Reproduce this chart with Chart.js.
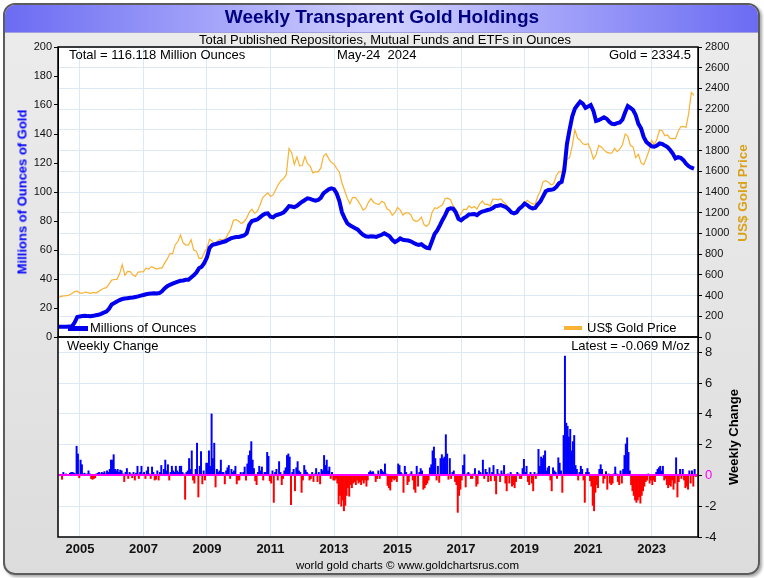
<!DOCTYPE html>
<html>
<head>
<meta charset="utf-8">
<script src="https://cdn.jsdelivr.net/npm/chart.js@4.4.1/dist/chart.umd.min.js"></script>
<style>
  body { margin: 0; width: 764px; height: 578px; background: #fff; overflow: hidden;
         font-family: "Liberation Sans", Arial, sans-serif; }
  #frame { position: absolute; left: 3px; top: 3px; width: 753px; height: 568px;
           border: 2px solid #5c5c5c; border-radius: 12px; overflow: hidden;
           background: linear-gradient(#ececec, #e4e4e4 60%, #dcdcdc);
           box-shadow: 2px 2px 3px rgba(0,0,0,0.35); }
  #titlebar { position: absolute; left: 0; top: 0; width: 100%; height: 27px;
              background: linear-gradient(to right, #6b6bf3, #d2d2ff 50%, #6b6bf3);
              border-bottom: 1px solid #a0a0e0; }
  .plot { position: absolute; left: 58px; width: 640px; background: #fff; }
  .lbl { position: absolute; white-space: pre; line-height: 1; font-size: 13px; color: #000; }
  .vt { position: absolute; white-space: pre; line-height: 1; font-weight: bold; font-size: 13px;
        transform: translate(-50%, -50%) rotate(-90deg); }
  canvas { position: absolute; left: 0; }
</style>
</head>
<body>
<div id="frame"><div id="titlebar"></div></div>
<div class="plot" style="top:47px;height:290px"></div>
<div class="plot" style="top:337px;height:200px"></div>

<canvas id="top" width="764" height="351" style="top:0"></canvas>
<canvas id="bottom" width="764" height="253" style="top:325px"></canvas>

<div class="lbl" style="left:0;width:764px;text-align:center;top:7px;font-size:19px;font-weight:bold;color:#000080">Weekly Transparent Gold Holdings</div>
<div class="lbl" style="left:0;width:770px;text-align:center;top:33px">Total Published Repositories, Mutual Funds and ETFs in Ounces</div>
<div class="lbl" style="left:69px;top:48px">Total = 116.118 Million Ounces</div>
<div class="lbl" style="left:337px;top:48px">May-24  2024</div>
<div class="lbl" style="right:73px;top:48px">Gold = 2334.5</div>
<div style="position:absolute;left:68px;top:326px;width:20px;height:5px;background:#0000ee"></div>
<div class="lbl" style="left:90px;top:321px">Millions of Ounces</div>
<div style="position:absolute;left:564px;top:326px;width:18px;height:4px;background:#f9b233"></div>
<div class="lbl" style="left:587px;top:321px">US$ Gold Price</div>
<div class="lbl" style="left:67px;top:339px">Weekly Change</div>
<div class="lbl" style="right:74px;top:339px">Latest = -0.069 M/oz</div>
<div class="lbl" style="left:0;width:815px;text-align:center;top:560px;font-size:11.5px">world gold charts © www.goldchartsrus.com</div>
<div class="vt" style="left:22px;top:192px;color:#0000ff">Millions of Ounces of Gold</div>
<div class="vt" style="left:743px;top:193px;color:#d9a21b;font-size:13.5px">US$ Gold Price</div>
<div class="vt" style="left:733px;top:437px;color:#000">Weekly Change</div>

<script>
// monthly, May 2004 .. May 2024
const holdings = [
  7.0, 7.0, 7.1, 7.1, 7.2, 7.3, 10.0, 13.8,
  14.2, 14.5, 14.6, 14.4, 14.3, 14.6, 15.0, 15.3, 16.0, 16.8, 17.5, 19.5,
  22.5, 23.5, 24.5, 25.5, 26.2, 26.5, 26.8, 27.0, 27.2, 27.6, 28.0, 28.5,
  29.0, 29.5, 29.8, 30.0, 30.2, 30.0, 30.3, 31.5, 33.5, 35.0, 36.0, 36.8,
  37.5, 38.2, 38.8, 39.0, 39.5, 39.5, 41.0, 42.5, 44.5, 47.5, 48.5, 51.0,
  55.0, 61.5, 63.5, 64.0, 64.5, 65.0, 65.5, 66.0, 67.0, 68.0, 68.5, 69.0,
  69.0, 69.5, 70.0, 71.5, 77.5, 80.0, 80.5, 81.0, 82.5, 84.0, 85.0, 85.3,
  83.0, 82.5, 84.0, 84.5, 85.0, 86.0, 88.0, 90.3, 90.0, 89.5, 90.5, 92.0,
  93.3, 94.5, 95.6, 95.3, 94.5, 94.0, 94.5, 96.0, 99.0, 100.5, 101.8, 102.5,
  102.0, 99.0, 94.0, 86.0, 82.0, 78.5, 77.0, 76.0, 75.0, 74.0, 72.0, 70.5,
  69.5, 69.2, 69.5, 69.3, 69.0, 69.8, 70.5, 71.5, 70.5, 69.5, 67.0, 65.5,
  66.5, 68.0, 67.0, 66.8, 66.5, 66.0, 65.0, 64.0, 63.5, 64.0, 62.5, 61.5,
  61.2, 66.0, 71.0, 73.5, 77.0, 80.7, 84.0, 88.0, 88.7, 88.5, 86.0, 81.5,
  80.5, 82.0, 83.0, 84.5, 84.6, 84.8, 84.0, 85.5, 86.5, 87.0, 87.6, 88.0,
  89.0, 90.3, 90.5, 91.0, 90.3, 89.5, 88.0, 86.0, 85.3, 86.0, 88.5, 90.0,
  92.0, 91.0, 89.5, 88.7, 89.0, 91.5, 93.5, 97.0, 100.5, 101.4, 101.5, 102.0,
  103.5, 106.0, 107.0, 115.0, 133.0, 143.0, 152.0, 157.5, 160.0, 162.3, 161.0, 158.0,
  159.0, 160.0, 156.0, 149.0, 149.5, 150.5, 151.5, 150.5, 148.5, 147.0, 146.8, 147.5,
  148.0, 150.0, 155.0, 159.3, 158.0, 156.5, 153.0, 147.0, 143.9, 138.0, 134.5, 133.0,
  131.5, 131.2, 132.0, 133.5, 133.1, 132.0, 131.0, 129.0, 126.5, 123.2, 124.0, 123.5,
  122.0, 119.5, 117.8, 116.8, 116.1
];

const goldPrice = [
  384, 392, 398, 400, 405, 420, 439, 442,
  424, 423, 434, 429, 422, 430, 424, 438, 456, 470, 476, 510,
  549, 555, 557, 610, 700, 596, 633, 632, 598, 585, 627, 629,
  631, 665, 655, 679, 667, 655, 665, 665, 713, 754, 806, 803,
  889, 922, 985, 909, 888, 889, 939, 839, 829, 760, 760, 816,
  858, 943, 924, 890, 928, 945, 934, 949, 996, 1043, 1127, 1134,
  1118, 1095, 1113, 1148, 1205, 1233, 1193, 1215, 1270, 1342, 1370, 1391,
  1356, 1372, 1424, 1474, 1512, 1529, 1572, 1820, 1780, 1665, 1739, 1652,
  1656, 1742, 1674, 1650, 1585, 1596, 1594, 1630, 1744, 1770, 1722, 1684,
  1671, 1627, 1593, 1487, 1414, 1343, 1286, 1347, 1349, 1316, 1275, 1225,
  1244, 1300, 1336, 1299, 1287, 1279, 1311, 1296, 1238, 1222, 1176, 1200,
  1250, 1227, 1178, 1198, 1199, 1181, 1128, 1117, 1125, 1157, 1086, 1068,
  1097, 1199, 1246, 1242, 1260, 1276, 1337, 1340, 1326, 1266, 1236, 1152,
  1192, 1234, 1231, 1266, 1246, 1260, 1236, 1283, 1314, 1280, 1282, 1265,
  1331, 1330, 1325, 1335, 1303, 1282, 1238, 1201, 1198, 1215, 1221, 1250,
  1292, 1320, 1300, 1285, 1284, 1359, 1413, 1500, 1510, 1495, 1470, 1480,
  1560, 1597, 1592, 1683, 1715, 1733, 1846, 2000, 1921, 1900, 1866, 1858,
  1867, 1808, 1718, 1760, 1850, 1834, 1807, 1785, 1775, 1777, 1821, 1790,
  1817, 1856, 1960, 1937, 1849, 1836, 1732, 1765, 1681, 1664, 1726, 1798,
  1898, 1855, 1912, 1999, 1992, 1943, 1950, 1918, 1916, 1916, 1985, 2030,
  2034, 2023, 2160, 2360, 2334.5
];

// half-monthly, first half of May 2004 .. second half of May 2024
const weeklyChange = [
  0.05, 0.0, -0.25, 0.2, 0.05, 0.1, 0.0, 0.05, 0.15, 0.2, 0.2, 0.15, 0.1, 1.9, 1.4, -0.15,
  1.0, 0.7, 0.1, 0.15, 0.05, 0.1, 0.3, 0.1, -0.2, -0.25, -0.2, -0.15, 0.1, 0.15, 0.2, 0.1, 0.2, 0.15, 0.25, 0.1, 0.3, 0.2, 0.4, 1.0,
  1.0, 1.35, 0.4, 0.3, 0.4, 0.2, 0.35, 0.3, 0.1, -0.4, 0.2, 0.45, -0.2, 0.2, 0.1, -0.15, 0.2, -0.3, 0.15, 0.6, -0.2, 0.2, 0.6, 0.1,
  0.2, -0.2, 0.3, 0.55, 0.1, -0.2, 0.55, 0.2, -0.3, -0.25, 0.3, -0.3, 0.2, 0.65, 0.1, 0.4, 1.0, 0.3, 0.7, -0.3, 0.2, 0.6, 0.3, 0.2,
  0.6, 0.3, 0.2, 0.6, 0.6, 0.2, 0.1, -1.55, 0.2, 0.3, 1.1, 0.4, 1.6, -0.3, -0.5, 0.4, 2.1, -1.4, 0.6, 1.55, -0.55, 0.3, -0.3, 0.8,
  0.8, 1.6, 0.6, 4.0, 1.1, 2.1, -0.75, 0.4, 0.2, 0.3, 1.0, 0.2, 0.2, -0.55, 0.3, 0.5, 0.65, -0.2, 0.4, 0.2, 0.3, 0.6, -0.55, -0.3,
  -0.3, 0.2, 0.1, 0.2, 0.55, -0.3, 0.75, 1.3, 1.6, 2.2, 1.0, 0.45, -0.35, -0.6, 0.2, 0.6, 0.3, 0.55, -0.3, 0.2, 0.2, 1.5, 1.25, -0.35,
  -0.5, 0.3, -1.75, 0.2, 0.4, -0.3, 0.9, 0.2, -0.6, -0.2, 0.3, 0.5, 1.3, 1.4, 1.2, -1.9, 0.2, 0.4, -1.0, 0.5, 0.9, 0.3, 0.2, -1.1,
  -0.3, 0.65, 0.35, 0.2, 0.1, -0.3, -0.2, 0.2, -0.4, 0.1, 0.45, -0.4, 0.2, -0.55, 0.4, 0.3, 1.3, 0.65, 1.0, 0.3, 0.55, -0.2, 0.2, -0.3,
  -0.3, -0.2, -0.5, -1.85, -1.3, -2.0, -1.6, -2.3, -1.95, -1.3, -0.8, -1.35, -0.6, -0.8, -0.5, -0.4, -0.6, -0.3, -0.5, -0.4, -0.6, -0.3, -0.5, -0.3,
  -0.7, -0.3, 0.2, 0.3, 0.2, 0.25, 0.1, -0.4, -0.2, 0.3, -0.2, 0.4, 0.3, 0.2, 0.75, 0.1, -0.65, -0.8, -0.95, -0.4, -0.2, -0.3, -0.2, -0.4,
  0.75, 0.65, 0.2, 0.1, -1.1, 0.6, 0.2, -0.6, -0.4, 0.1, 0.25, -0.3, -0.9, -1.1, 0.6, -0.7, 0.2, 0.45, 0.3, -0.9, -0.8, -0.6, -0.5, -0.3,
  0.5, 0.7, 1.6, 1.85, 1.1, -0.3, 0.6, -0.45, 1.1, 1.35, 1.1, 1.2, 2.65, 1.4, -0.25, 1.1, -0.2, 0.2, 0.3, -0.4, -0.6, -2.4, -1.3, -0.9,
  -0.3, 0.65, 1.35, -0.75, 0.1, 0.2, 0.1, -0.2, -0.2, 0.1, 0.45, -0.7, -0.55, 0.3, 0.2, 0.1, 1.0, -0.2, 0.4, 0.2, -0.4, 0.5, -0.35, 0.2,
  0.65, -0.35, -1.2, 0.4, 0.1, -0.4, 0.3, 0.1, 0.65, -0.5, -1.0, 0.1, -0.5, 0.2, -0.7, -0.6, -0.8, -0.4, 0.2, 0.1, -0.2, -0.2, 0.45, 1.05,
  0.2, 0.6, -0.4, -0.6, 0.2, -0.5, -1.0, 0.2, -0.2, 0.1, 1.7, 0.6, 1.2, 1.1, 1.3, 1.6, 0.3, 0.5, 0.6, -0.3, -1.0, 0.5, 0.3, 0.2,
  -0.2, 1.15, 0.8, 0.3, -1.1, 2.6, 7.76, 3.4, 3.2, 2.5, 3.0, 1.6, 2.2, 2.6, 0.65, 0.4, -0.3, 0.2, 0.6, 0.4, -0.3, -1.75, 0.2, 0.45,
  0.2, -0.35, -0.7, -1.95, -2.3, -1.1, -0.6, -0.8, 0.4, 0.7, 0.4, -0.5, -0.2, 0.25, -0.9, 0.1, -0.5, -0.6, -0.5, 0.1, 0.55, 0.1, -0.4, -0.6,
  0.3, -0.5, 0.4, 1.3, 2.05, 2.45, 1.5, 0.3, -0.6, -1.0, -1.3, -1.6, -1.75, -1.6, -1.4, -1.8, -1.3, -1.0, -0.7, -0.4, -0.3, 0.1, -0.5, -0.3,
  -0.6, -0.3, -0.4, 0.2, 0.4, 0.5, 0.6, 0.3, 0.6, -0.3, -0.2, -0.6, -0.8, -0.6, -0.7, -0.3, -0.9, -0.5, 1.15, -1.4, -0.4, 0.4, -0.2, 0.4,
  -0.3, -0.8, -0.7, -0.9, 0.3, -0.5, 0.3, -0.7, 0.4, -0.069
];

const yearTicks = [2005, 2007, 2009, 2011, 2013, 2015, 2017, 2019, 2021, 2023];
const xMin = 2004.31, xMax = 2024.46;

const GRID = '#dce8f4';
Chart.defaults.font.family = "'Liberation Sans', Arial, sans-serif";
Chart.defaults.color = '#111';

const monthX = i => 2004 + (4 + i) / 12;
const halfMonthX = i => 2004 + (8 + i + 0.5) / 24;

// black frame around the plot area, and the magenta zero line on top of the bars
const panelFrame = {
  id: 'panelFrame',
  afterDatasetsDraw(chart, args, opts) {
    const { ctx, chartArea: a } = chart;
    ctx.save();
    if (opts.zeroAxis) {
      const y = Math.round(chart.scales[opts.zeroAxis].getPixelForValue(0));
      ctx.strokeStyle = '#ff00ff';
      ctx.lineWidth = 2;
      ctx.beginPath(); ctx.moveTo(a.left, y); ctx.lineTo(a.right, y); ctx.stroke();
    }
    ctx.strokeStyle = '#000';
    ctx.lineWidth = 1.5;
    ctx.strokeRect(a.left, a.top, a.right - a.left, a.bottom - a.top);
    ctx.restore();
  }
};

const xAxis = (showLabels) => ({
  type: 'linear', min: xMin, max: xMax, offset: false,
  afterBuildTicks: s => { s.ticks = yearTicks.map(v => ({ value: v })); },
  grid: { color: GRID, drawTicks: false, offset: false },
  border: { display: false },
  ticks: { display: showLabels, padding: 5, font: { size: 13, weight: 'bold' }, callback: v => String(v) },
  afterFit: s => { s.height = showLabels ? 26 : 0; }
});

// padding top/bottom kept above the tick-label overhang so the plot box lands exactly
new Chart(document.getElementById('top'), {
  type: 'line',
  data: {
    datasets: [
      {
        data: holdings.map((v, i) => ({ x: monthX(i), y: v })),
        yAxisID: 'yL', borderColor: '#0000ee', borderWidth: 4, pointRadius: 0, tension: 0
      },
      {
        data: goldPrice.map((v, i) => ({ x: monthX(i), y: v })),
        yAxisID: 'yR', borderColor: '#f9b233', borderWidth: 1.2, pointRadius: 0, tension: 0
      }
    ]
  },
  options: {
    responsive: false, animation: false,
    layout: { padding: { left: 10, right: 9, top: 47, bottom: 14 } },
    plugins: { legend: { display: false }, tooltip: { enabled: false }, panelFrame: {} },
    scales: {
      x: xAxis(false),
      yL: {
        position: 'left', min: 0, max: 200,
        ticks: { stepSize: 20, padding: 2, font: { size: 11 }, callback: v => String(v) },
        grid: { drawOnChartArea: false, color: '#000', tickLength: 4 },
        border: { color: '#000' },
        afterFit: s => { s.width = 48; }
      },
      yR: {
        position: 'right', min: 0, max: 2800,
        ticks: { stepSize: 200, padding: 3, font: { size: 11 }, callback: v => String(v) },
        grid: { color: GRID, tickColor: '#000', tickLength: 4 },
        border: { color: '#000' },
        afterFit: s => { s.width = 57; }
      }
    }
  },
  plugins: [panelFrame]
});

new Chart(document.getElementById('bottom'), {
  type: 'bar',
  data: {
    datasets: [{
      data: weeklyChange.map((v, i) => ({ x: halfMonthX(i), y: v })),
      yAxisID: 'yW',
      backgroundColor: weeklyChange.map(v => v >= 0 ? '#0000ff' : '#ff0000'),
      barPercentage: 1, categoryPercentage: 1
    }]
  },
  options: {
    responsive: false, animation: false,
    layout: { padding: { left: 10, right: 19, top: 12, bottom: 15 } },
    plugins: { legend: { display: false }, tooltip: { enabled: false }, panelFrame: { zeroAxis: 'yW' } },
    scales: {
      x: xAxis(true),
      yPad: {
        position: 'left', display: true,
        ticks: { display: false }, grid: { display: false }, border: { display: false },
        afterFit: s => { s.width = 48; }
      },
      yW: {
        position: 'right', min: -4, max: 9,
        ticks: {
          stepSize: 2, includeBounds: false, padding: 3, font: { size: 13 },
          color: c => c.tick.value === 0 ? '#ff00ff' : '#111',
          callback: v => String(v)
        },
        grid: { color: c => c.tick.value === 0 ? '#ff00ff' : GRID, tickColor: '#000', tickLength: 4 },
        border: { color: '#000' },
        afterFit: s => { s.width = 47; }
      }
    }
  },
  plugins: [panelFrame]
});
</script>
</body>
</html>
